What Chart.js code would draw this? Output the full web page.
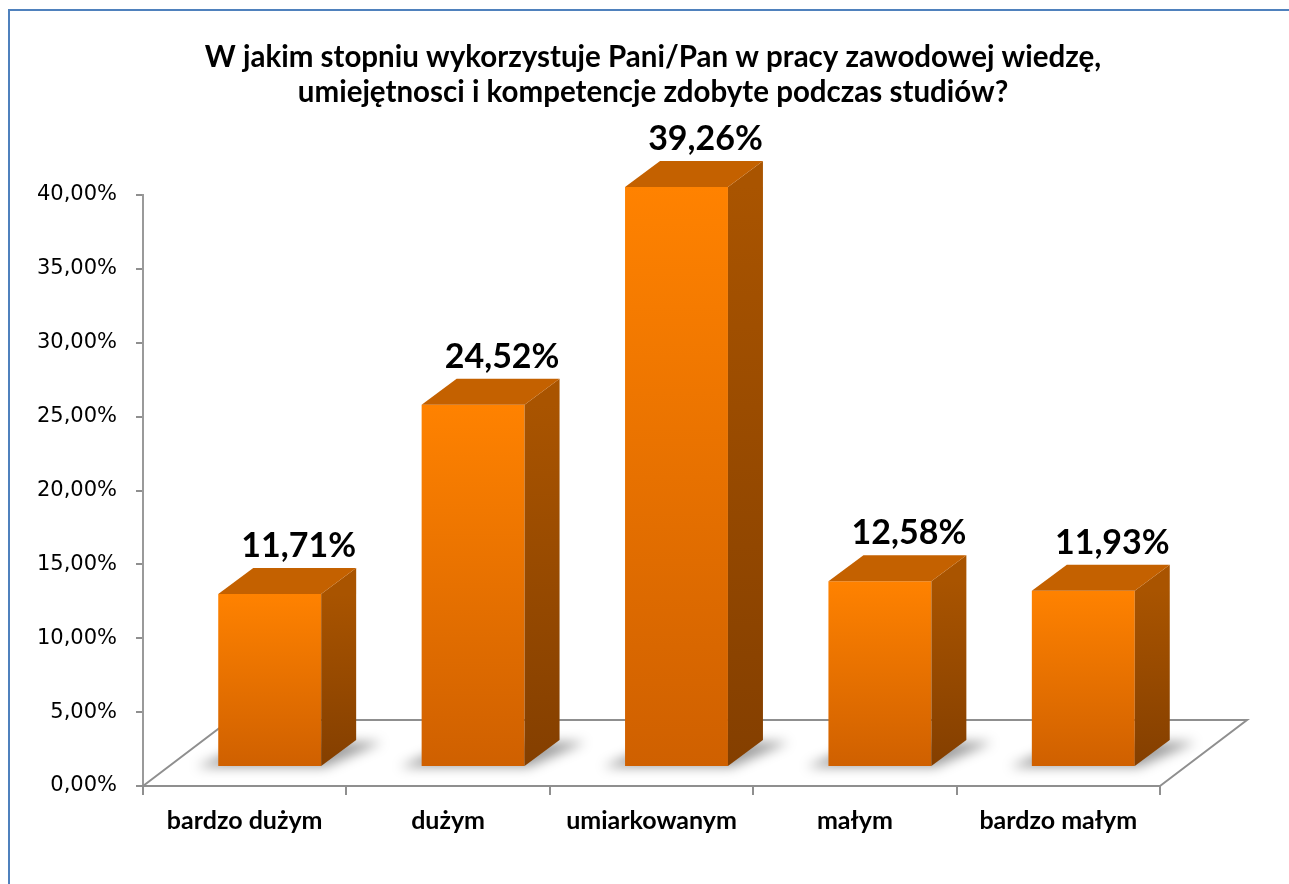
<!DOCTYPE html>
<html><head><meta charset="utf-8">
<script src="https://cdn.jsdelivr.net/npm/chart.js@4.4.1/dist/chart.umd.min.js"></script>
<style>
html,body{margin:0;padding:0;background:#fff;}
#wrap{position:relative;width:1289px;height:884px;overflow:hidden;}
#frame{position:absolute;left:8px;top:9px;width:1320px;height:920px;border-top:2px solid #4F81BD;border-left:2px solid #4F81BD;box-sizing:border-box;pointer-events:none;}
canvas{position:absolute;left:0;top:0;}
</style></head><body>
<div id="wrap"><canvas id="c" width="1289" height="884"></canvas><div id="frame"></div></div>
<script>
// ---- data ----
const titleLines = ['W jakim stopniu wykorzystuje Pani/Pan w pracy zawodowej wiedzę,', 'umiejętnosci i kompetencje zdobyte podczas studiów?'];
const categories = ['bardzo dużym', 'dużym', 'umiarkowanym', 'małym', 'bardzo małym'];
const values = [11.71, 24.52, 39.26, 12.58, 11.93];
const yMin = 0, yMax = 40, yStep = 5;

// ---- style constants ----
const DEPTH_X = 35, DEPTH_Y = -26;     // bar depth
const SHIFT_X = 25, SHIFT_Y = -19;     // bars set back from the floor front
const FLOOR_X = 87, FLOOR_Y = -66;     // floor depth
const fmt = v => v.toFixed(2).replace('.', ',') + '%';

const titlePlugin = {
  id: 'titleText',
  afterDraw(chart) {
    const { ctx } = chart;
    ctx.save();
    ctx.font = 'bold 29.5px Lato';
    ctx.fillStyle = '#000';
    ctx.textAlign = 'center';
    ctx.textBaseline = 'middle';
    ctx.fillText(titleLines[0], 653, 57);
    ctx.fillText(titleLines[1], 653, 92);
    ctx.restore();
  }
};

const bar3d = {
  id: 'bar3d',
  beforeDatasetsDraw(chart) {
    const { ctx, chartArea: a, scales: { y } } = chart;
    const yb = y.getPixelForValue(0);
    ctx.save();
    ctx.beginPath();
    ctx.moveTo(a.left, yb);
    ctx.lineTo(a.left + FLOOR_X, yb + FLOOR_Y);
    ctx.lineTo(a.right + FLOOR_X, yb + FLOOR_Y);
    ctx.lineTo(a.right, yb);
    ctx.strokeStyle = '#8f8f8f';
    ctx.lineWidth = 2;
    ctx.stroke();
    ctx.restore();

    ctx.save();
    ctx.translate(SHIFT_X, SHIFT_Y);
    // soft shadows on the floor
    const meta = chart.getDatasetMeta(0);
    meta.data.forEach(el => {
      const l = el.x - el.width / 2, r = el.x + el.width / 2, b = el.base;
      ctx.save();
      ctx.filter = 'blur(6px)';
      ctx.fillStyle = 'rgba(0,0,0,0.38)';
      ctx.beginPath();
      ctx.moveTo(l - 22, b + 1);
      ctx.lineTo(r + 4, b + 1);
      ctx.lineTo(r + DEPTH_X + 26, b + DEPTH_Y + 2);
      ctx.lineTo(l + DEPTH_X, b + DEPTH_Y + 2);
      ctx.closePath();
      ctx.fill();
      ctx.restore();
    });
  },
  afterDatasetsDraw(chart) {
    const { ctx } = chart;
    const meta = chart.getDatasetMeta(0);
    meta.data.forEach(el => {
      const l = el.x - el.width / 2, r = el.x + el.width / 2, t = el.y, b = el.base;
      // side face
      const g = ctx.createLinearGradient(0, t, 0, b);
      g.addColorStop(0, '#A95400');
      g.addColorStop(1, '#843F00');
      ctx.fillStyle = g;
      ctx.beginPath();
      ctx.moveTo(r, t);
      ctx.lineTo(r + DEPTH_X, t + DEPTH_Y);
      ctx.lineTo(r + DEPTH_X, b + DEPTH_Y);
      ctx.lineTo(r, b);
      ctx.closePath();
      ctx.fill();
      // top face
      ctx.fillStyle = '#C46100';
      ctx.beginPath();
      ctx.moveTo(l, t);
      ctx.lineTo(l + DEPTH_X, t + DEPTH_Y);
      ctx.lineTo(r + DEPTH_X, t + DEPTH_Y);
      ctx.lineTo(r, t);
      ctx.closePath();
      ctx.fill();
    });
    ctx.restore();
    // value labels
    ctx.save();
    ctx.font = 'bold 34px Lato';
    ctx.fillStyle = '#000';
    ctx.textAlign = 'center';
    ctx.textBaseline = 'alphabetic';
    meta.data.forEach((el, i) => {
      ctx.fillText(fmt(values[i]), el.x + SHIFT_X + 29, el.y + SHIFT_Y + DEPTH_Y - 11);
    });
    ctx.restore();
  }
};

new Chart(document.getElementById('c'), {
  type: 'bar',
  data: {
    labels: categories,
    datasets: [{
      data: values,
      clip: false,
      categoryPercentage: 1,
      barPercentage: 0.506,
      borderWidth: 0,
      backgroundColor: (c) => {
        const ch = c.chart, y = ch.scales && ch.scales.y;
        if (!ch.chartArea || !y || c.dataIndex === undefined) return '#F07800';
        const top = y.getPixelForValue(values[c.dataIndex]);
        const bot = y.getPixelForValue(0);
        const g = ch.ctx.createLinearGradient(0, top, 0, bot);
        g.addColorStop(0, '#FF8200');
        g.addColorStop(1, '#CF6000');
        return g;
      }
    }]
  },
  options: {
    responsive: false,
    animation: false,
    devicePixelRatio: 1,
    layout: { padding: { left: 0, right: 129, top: 195, bottom: 0 } },
    plugins: {
      legend: { display: false },
      tooltip: { enabled: false },
      title: { display: false }
    },
    scales: {
      y: {
        min: yMin, max: yMax,
        ticks: {
          stepSize: yStep,
          color: '#000',
          font: { family: 'DejaVu Sans', size: 21 },
          padding: 19,
          callback: v => fmt(v)
        },
        grid: { drawOnChartArea: false, drawTicks: true, tickLength: 7, color: '#8f8f8f', lineWidth: 2 },
        border: { display: true, color: '#9a9a9a', width: 2 },
        afterFit: s => { s.width = 143; }
      },
      x: {
        ticks: {
          color: '#000',
          font: { family: 'Lato', size: 25, weight: 'bold' },
          padding: 11
        },
        grid: { drawOnChartArea: false, drawTicks: true, tickLength: 9, color: '#8f8f8f', lineWidth: 2, offset: true },
        border: { display: true, color: '#8f8f8f', width: 2 },
        afterFit: s => { s.height = 98; }
      }
    }
  },
  plugins: [bar3d, titlePlugin]
});
</script>
</body></html>
